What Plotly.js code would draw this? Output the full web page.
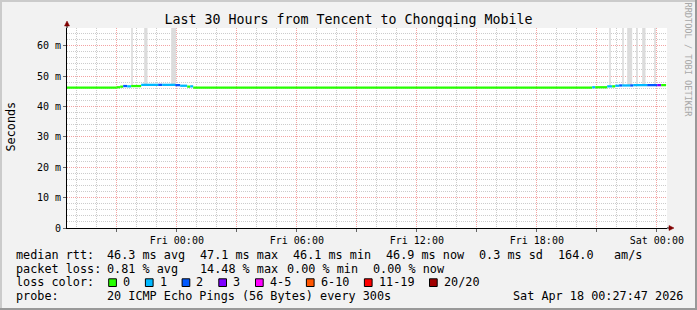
<!DOCTYPE html>
<html><head><meta charset="utf-8">
<script src="https://cdn.plot.ly/plotly-3.0.1.min.js"></script>
<style>html,body{margin:0;padding:0;background:#f2f2f2;}#chart{width:697px;height:310px;}</style>
</head><body><div id="chart"></div>
<script>
// ---------------- data ----------------
const rangeStart = '2026-04-16 18:30:30';
const rangeEnd   = '2026-04-18 00:30:30';
const lastUpdate = '2026-04-18 00:27:47';

// x-axis labels (every 3 h grid, labels every 6 h)
const tickTimes  = ['2026-04-16 21:00','2026-04-17 00:00','2026-04-17 03:00','2026-04-17 06:00','2026-04-17 09:00','2026-04-17 12:00','2026-04-17 15:00','2026-04-17 18:00','2026-04-17 21:00','2026-04-18 00:00'];
const tickLabels = ['','Fri 00:00','','Fri 06:00','','Fri 12:00','','Fri 18:00','','Sat 00:00'];
const yTickVals  = [0,0.01,0.02,0.03,0.04,0.05,0.06];
const yTickText  = ['0','10 m','20 m','30 m','40 m','50 m','60 m'];

// median RTT segments (start time, median ms, lost pings of 20)
const segStart = [
 '2026-04-16 18:30','2026-04-16 21:00','2026-04-16 21:10','2026-04-16 21:19','2026-04-16 21:31','2026-04-16 21:43',
 '2026-04-16 22:13','2026-04-16 23:04','2026-04-16 23:16','2026-04-16 23:55','2026-04-17 00:10','2026-04-17 00:31',
 '2026-04-17 00:40','2026-04-17 00:49',
 '2026-04-17 20:46','2026-04-17 20:55','2026-04-17 21:31','2026-04-17 21:46','2026-04-17 21:55','2026-04-17 22:07',
 '2026-04-17 22:16','2026-04-17 22:40','2026-04-17 22:49','2026-04-17 23:31','2026-04-18 00:01','2026-04-18 00:13'
];
const medianMs = [
 46.2,46.3,46.5,46.7,46.6,46.7,
 47.1,47.1,47.1,47.0,46.8,46.5,
 46.6,46.2,
 46.3,46.3,46.6,46.6,46.8,46.9,
 46.9,46.9,47.0,47.0,47.0,47.0
];
const lossCount = [
 0,0,0,2,1,0,
 1,2,1,2,1,0,
 1,0,
 1,0,1,0,1,2,
 1,2,1,2,3,0
];

// smoke spikes (single slow pings reaching above the chart)
const spikeStart   = ['2026-04-16 21:43','2026-04-16 22:22','2026-04-16 23:43','2026-04-17 21:37','2026-04-17 22:16','2026-04-17 22:31','2026-04-17 22:58','2026-04-17 23:16','2026-04-17 23:52'];
const spikeMinutes = [5,10,15,5,5,15,5,10,5];
const spikeLowMs   = [46.7,47.1,47.1,46.6,46.9,46.9,47.0,47.0,47.0];
const spikeHighMs  = [90,95,95,90,90,95,90,95,90];

// loss legend
const lossBins   = [0,1,2,3,5,10,19,20];
const lossLabels = ['0','1','2','3','4-5','6-10','11-19','20/20'];
const lossColors = ['#26ff00','#00b8ff','#0059ff','#7e00ff','#ff00ff','#ff5500','#ff0000','#a10000'];

// statistics
const rttFields  = ['46.3 ms avg','47.1 ms max','46.1 ms min','46.9 ms now','0.3 ms sd','164.0','am/s'];
const lossFields = ['0.81 % avg','14.48 % max','0.00 % min','0.00 % now'];
const probeText  = '20 ICMP Echo Pings (56 Bytes) every 300s';
const stampText  = 'Sat Apr 18 00:27:47 2026';
const titleText  = 'Last 30 Hours from Tencent to Chongqing Mobile';

// ---------------- helpers ----------------
const L = 67, T = 28, W = 600, H = 200;
const px = p => (p - L) / W;
const py = p => (T + H - p) / H;
const toMs = s => Date.parse(s.replace(' ', 'T') + 'Z');
const nb = s => s.replace(/ /g, '\u00a0');
const lossColor = n => { for (let i = 0; i < lossBins.length; i++) if (n <= lossBins[i]) return lossColors[i]; return lossColors[lossColors.length-1]; };
const MONO = 'DejaVu Sans Mono';

const segEnd = segStart.slice(1).concat([lastUpdate]);
const segW = segStart.map((s, i) => toMs(segEnd[i]) - toMs(s));
const thick = 0.00075;

const traces = [
 {type:'bar', x: spikeStart, base: spikeLowMs.map(v => v/1000), y: spikeHighMs.map((v,i) => (v - spikeLowMs[i])/1000),
  width: spikeMinutes.map(m => m*60000), offset: 0, marker:{color:'#dcdcdc', line:{width:0}}, hoverinfo:'skip'},
 {type:'bar', x: segStart, base: medianMs.map(v => v/1000 - thick/2), y: medianMs.map(() => thick),
  width: segW, offset: 0, marker:{color: lossCount.map(lossColor), line:{width:0}}, hoverinfo:'skip'}
];

const fnt = {family: MONO, size: 11.8, color: '#000'};
const ann = [];
const txt = (t, x, y, extra) => ann.push(Object.assign({text: nb(t), xref:'paper', yref:'paper', x: px(x), y: py(y), xanchor:'left', yanchor:'middle', showarrow:false, font: fnt, borderpad:0, borderwidth:0}, extra||{}));
// legend lines (column positions in pixels)
const rttCols  = [107, 200, 293, 386, 479, 558, 614];
const lossCols = [107, 200, 286.5, 372.5];
txt('median rtt:', 16, 255);
rttFields.forEach((f, i) => txt(f, rttCols[i], 255));
txt('packet loss:', 16, 268.7);
lossFields.forEach((f, i) => txt(f, lossCols[i], 268.7));
txt('loss color:', 16, 282.4);
txt('probe:', 16, 296.1);
txt(probeText, 107, 296.1);
txt(stampText, 513, 296.1);

const shapes = [];
let sx = 108.7;
lossLabels.forEach((lab, i) => {
  shapes.push({type:'rect', xref:'paper', yref:'paper', x0: px(sx), x1: px(sx+7.7), y0: py(286.5), y1: py(278.8), fillcolor: lossColors[i], line:{color:'#000', width:1}});
  txt(lab, sx + 14.3, 282.4);
  sx += 29.6 + lab.length * 7.1;
});

// axis title & watermark
ann.push({text:'Seconds', xref:'paper', yref:'paper', x: px(10.5), y: py(127), textangle:-90, showarrow:false, font: fnt, xanchor:'center', yanchor:'middle'});
ann.push({text: nb('RRDTOOL / TOBI OETIKER'), xref:'paper', yref:'paper', x: px(687.5), y: py(60), textangle:90, showarrow:false, font:{family: MONO, size: 8.6, color:'#a8a8a8'}, xanchor:'center', yanchor:'middle'});

// frame
shapes.push({type:'line', xref:'paper', yref:'paper', x0: px(0), x1: px(697), y0: py(1), y1: py(1), line:{color:'#cbcbcb', width:2}});
shapes.push({type:'line', xref:'paper', yref:'paper', x0: px(1), x1: px(1), y0: py(0), y1: py(310), line:{color:'#cbcbcb', width:2}});
shapes.push({type:'line', xref:'paper', yref:'paper', x0: px(0), x1: px(697), y0: py(309), y1: py(309), line:{color:'#999999', width:2}});
shapes.push({type:'line', xref:'paper', yref:'paper', x0: px(696), x1: px(696), y0: py(0), y1: py(310), line:{color:'#999999', width:2}});
// axis extensions and arrows
shapes.push({type:'line', xref:'paper', yref:'paper', x0: px(67), x1: px(67), y0: py(28), y1: py(24), line:{color:'#000', width:1}});
shapes.push({type:'line', xref:'paper', yref:'paper', x0: px(667), x1: px(670), y0: py(228), y1: py(228), line:{color:'#000', width:1}});
shapes.push({type:'path', xref:'paper', yref:'paper', path:`M ${px(67)} ${py(21)} L ${px(64.5)} ${py(26)} L ${px(69.5)} ${py(26)} Z`, fillcolor:'#800000', line:{color:'#800000', width:0.5}});
shapes.push({type:'path', xref:'paper', yref:'paper', path:`M ${px(674)} ${py(228)} L ${px(669)} ${py(225.5)} L ${px(669)} ${py(230.5)} Z`, fillcolor:'#800000', line:{color:'#800000', width:0.5}});

const layout = {
  width: 697, height: 310,
  margin: {l: L, r: 697 - L - W, t: T, b: 310 - T - H, pad: 0},
  paper_bgcolor: '#f2f2f2', plot_bgcolor: '#ffffff',
  showlegend: false, barmode: 'overlay',
  title: {text: titleText, font: {family: MONO, size: 13.3, color: '#000'}, xref:'container', yref:'container', x: 0.5, xanchor:'center', y: 1 - 19/310, yanchor:'middle'},
  xaxis: {type:'date', range:[rangeStart, rangeEnd], tickmode:'array', tickvals: tickTimes, ticktext: tickLabels,
    showgrid:true, gridcolor:'#f3a3a3', griddash:'1px,1px', gridwidth:1,
    minor:{tickmode:'linear', dtick: 3600000, tick0:'2026-04-17 00:00', showgrid:true, gridcolor:'#cccccc', griddash:'1px,1px', gridwidth:1},
    showline:true, linecolor:'#000', linewidth:1, zeroline:false, ticks:'outside', ticklen:3, tickcolor:'#666',
    tickfont:{family: MONO, size: 10, color:'#000'}, fixedrange:true},
  yaxis: {range:[0, 0.0658], tickmode:'array', tickvals: yTickVals, ticktext: yTickText,
    showgrid:true, gridcolor:'#f3a3a3', griddash:'1px,1px', gridwidth:1,
    minor:{tickmode:'linear', dtick: 0.002, tick0: 0, showgrid:true, gridcolor:'#cccccc', griddash:'1px,1px', gridwidth:1},
    showline:true, linecolor:'#000', linewidth:1, zeroline:false, ticks:'outside', ticklen:3, tickcolor:'#666',
    tickfont:{family: MONO, size: 10, color:'#000'}, fixedrange:true},
  annotations: ann, shapes: shapes
};
Plotly.newPlot('chart', traces, layout, {staticPlot:true, displayModeBar:false});
</script></body></html>
